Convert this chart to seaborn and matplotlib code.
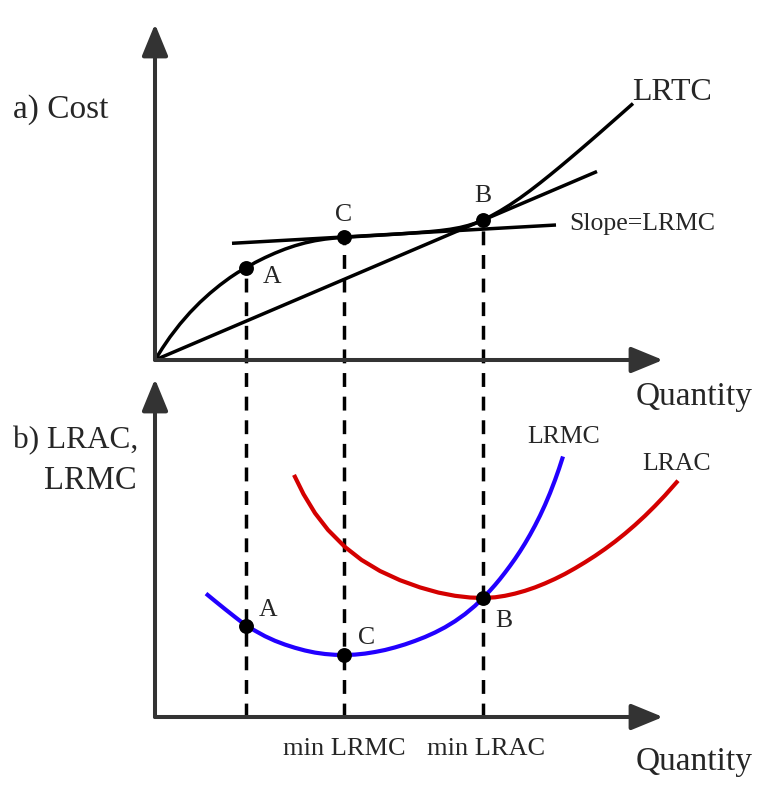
import matplotlib
matplotlib.use("Agg")
import matplotlib.pyplot as plt
import seaborn as sns

# ==========================================
# DATA (quantity / cost units)
# ==========================================
# a) long-run total cost
lrtc_q = [0, 0.75, 1.5, 2.5, 3.5, 4.5, 5.5, 6.5, 7.5, 8.3, 9.1, 10.0, 11.0, 12.0,
          13.0, 14.0, 15.0, 16.0, 17.0, 18.0, 18.9, 20.0, 21.5, 23.0, 24.5, 26.0,
          27.5, 28.5, 29.5, 30.5, 31.3, 32.0, 32.8, 33.6, 34.5, 35.5, 36.5, 37.5,
          38.5, 39.5, 40.5, 41.5, 42.5, 43.5, 44.5, 45.5, 46.5, 47.8]
lrtc_c = [0, 1.2, 2.3, 3.6, 4.75, 5.77, 6.68, 7.5, 8.24, 8.77, 9.2, 9.74, 10.24, 10.69,
          11.09, 11.43, 11.71, 11.93, 12.09, 12.2, 12.27, 12.335, 12.425, 12.515, 12.61, 12.72,
          12.84, 12.94, 13.07, 13.25, 13.45, 13.67, 14.0, 14.4, 14.9, 15.52, 16.2, 16.93,
          17.7, 18.5, 19.32, 20.16, 21.01, 21.87, 22.74, 23.62, 24.5, 25.65]

# ray from the origin (tangent at B) and tangent at C (slope = LRMC)
ray_q = [0, 44.2]
ray_c = [0, 18.85]
tan_q = [7.7, 40.1]
tan_c = [11.67, 13.5]

# b) long-run marginal cost
lrmc_q = [5.1, 6.0, 7.0, 8.0, 9.1, 10.0, 11.0, 12.0, 13.0, 14.0, 15.0, 16.0, 17.0,
          18.0, 18.9, 20.0, 21.0, 22.0, 23.0, 24.0, 25.0, 26.0, 27.0, 28.0, 29.0,
          30.0, 31.0, 32.0, 32.8, 33.5, 34.0, 34.5, 35.0, 35.5, 36.0, 36.5, 37.0,
          37.5, 38.0, 38.5, 39.0, 39.5, 40.0, 40.4, 40.8]
lrmc_v = [12.34, 11.6, 10.79, 10.0, 9.15, 8.63, 8.08, 7.62, 7.24, 6.92, 6.65, 6.44, 6.3,
          6.22, 6.2, 6.24, 6.34, 6.5, 6.7, 6.96, 7.26, 7.61, 8.0, 8.45, 8.97,
          9.58, 10.29, 11.12, 11.9, 12.64, 13.2, 13.8, 14.44, 15.11, 15.81, 16.56, 17.36,
          18.22, 19.14, 20.13, 21.21, 22.39, 23.69, 24.82, 26.05]

# b) long-run average cost
lrac_q = [13.9, 14.85, 16.0, 17.3, 19.0, 20.65, 22.5, 24.5, 26.5, 28.35, 30.0, 31.5,
          32.8, 34.0, 35.0, 36.0, 37.0, 38.0, 39.0, 40.0, 41.0, 42.0, 43.0, 44.0,
          45.0, 46.0, 47.0, 48.0, 49.0, 50.0, 51.0, 52.3]
lrac_v = [24.21, 22.29, 20.39, 18.71, 17.0, 15.71, 14.6, 13.68, 12.96, 12.44, 12.12, 11.95,
          11.9, 11.97, 12.12, 12.34, 12.62, 12.96, 13.36, 13.81, 14.31, 14.87, 15.47, 16.11,
          16.8, 17.54, 18.34, 19.2, 20.12, 21.11, 22.16, 23.63]

# points A, C, B
pt_labels = ["A", "C", "B"]
pt_q = [9.1, 18.9, 32.8]
pt_top = [9.2, 12.27, 14.0]
pt_bot = [9.15, 6.2, 11.9]

# axis extents
Q_MAX = 50.8
TOP_MAX = 33.6
BOT_MAX = 33.8
# ==========================================

sns.set_style("white")
plt.rcParams['font.family'] = ['Liberation Serif', 'DejaVu Serif']

AXIS_COL = "#333333"
BLUE = "#2200ff"
RED = "#d40000"
BIG = 24
SMALL = 18.5

fig = plt.figure(figsize=(7.68, 8.12), dpi=100)
ax_top = fig.add_axes([0, 442 / 812, 1, 370 / 812])
ax_bot = fig.add_axes([0, 0, 1, 442 / 812])
for ax in (ax_top, ax_bot):
    ax.set_facecolor("none")
    ax.axis("off")


def draw_axes(ax, ymax):
    style = "-|>,head_length=1.95,head_width=0.8"
    kw = dict(arrowstyle=style, mutation_scale=10, lw=2.9, color=AXIS_COL,
              shrinkA=0, shrinkB=0)
    ax.annotate("", xy=(Q_MAX, 0), xytext=(0, 0), arrowprops=kw)
    ax.annotate("", xy=(0, ymax), xytext=(0, 0), arrowprops=kw)


draw_axes(ax_top, TOP_MAX)
draw_axes(ax_bot, BOT_MAX)

# dashed guides from the top points down to the bottom quantity axis
ax_top.vlines(pt_q, [-35.7] * 3, pt_top, colors="black", lw=2.5,
              linestyles=(0, (4, 2.8)), clip_on=False, zorder=1)

line_kw = dict(estimator=None, sort=False, solid_joinstyle="round",
               solid_capstyle="butt")

# top panel
sns.lineplot(x=lrtc_q, y=lrtc_c, ax=ax_top, color="black", lw=2.5, **line_kw)
sns.lineplot(x=ray_q, y=ray_c, ax=ax_top, color="black", lw=2.5, **line_kw)
sns.lineplot(x=tan_q, y=tan_c, ax=ax_top, color="black", lw=2.5, **line_kw)
sns.scatterplot(x=pt_q, y=pt_top, ax=ax_top, color="black", s=115,
                linewidth=0, zorder=5)

# bottom panel
sns.lineplot(x=lrac_q, y=lrac_v, ax=ax_bot, color=RED, lw=3, **line_kw)
sns.lineplot(x=lrmc_q, y=lrmc_v, ax=ax_bot, color=BLUE, lw=3, **line_kw)
sns.scatterplot(x=pt_q, y=pt_bot, ax=ax_bot, color="black", s=115,
                linewidth=0, zorder=5)

# texts, top
ax_top.text(-14.2, 24.3, "a) Cost", fontsize=BIG, va="baseline")
ax_top.text(48.1, -4.4, "Quantity", fontsize=BIG, va="baseline")
ax_top.text(47.7, 26.1, "LRTC", fontsize=23, va="baseline")
ax_top.text(41.4, 13.1, "Slope=LRMC", fontsize=SMALL, va="baseline")
top_offsets = {"A": (2.6, -1.4), "C": (0, 1.7), "B": (0, 1.9)}
for lab, q, c in zip(pt_labels, pt_q, pt_top):
    dx, dy = top_offsets[lab]
    ax_top.text(q + dx, c + dy, lab, fontsize=SMALL, ha="center", va="baseline")

# texts, bottom
ax_bot.text(-14.2, 27.0, "b) LRAC,", fontsize=22.5, ha="left", va="baseline")
ax_bot.text(-1.8, 22.9, "LRMC", fontsize=23.5, ha="right", va="baseline")
ax_bot.text(48.1, -5.2, "Quantity", fontsize=BIG, va="baseline")
ax_bot.text(40.9, 27.5, "LRMC", fontsize=SMALL, ha="center", va="baseline")
ax_bot.text(52.2, 24.8, "LRAC", fontsize=SMALL, ha="center", va="baseline")
ax_bot.text(18.9, -3.7, "min LRMC", fontsize=19, ha="center", va="baseline")
ax_bot.text(33.1, -3.7, "min LRAC", fontsize=19, ha="center", va="baseline")
bot_offsets = {"A": (2.2, 1.0), "C": (2.3, 1.2), "B": (2.05, -2.8)}
for lab, q, v in zip(pt_labels, pt_q, pt_bot):
    dx, dy = bot_offsets[lab]
    ax_bot.text(q + dx, v + dy, lab, fontsize=SMALL, ha="center", va="baseline")

# 10 px per data unit in both panels
ax_top.set_xlim(-15.5, 61.3)
ax_top.set_ylim(-0.9, 36.1)
ax_bot.set_xlim(-15.5, 61.3)
ax_bot.set_ylim(-9.4, 34.8)

fig.savefig("out.png", dpi=100, facecolor="white")
